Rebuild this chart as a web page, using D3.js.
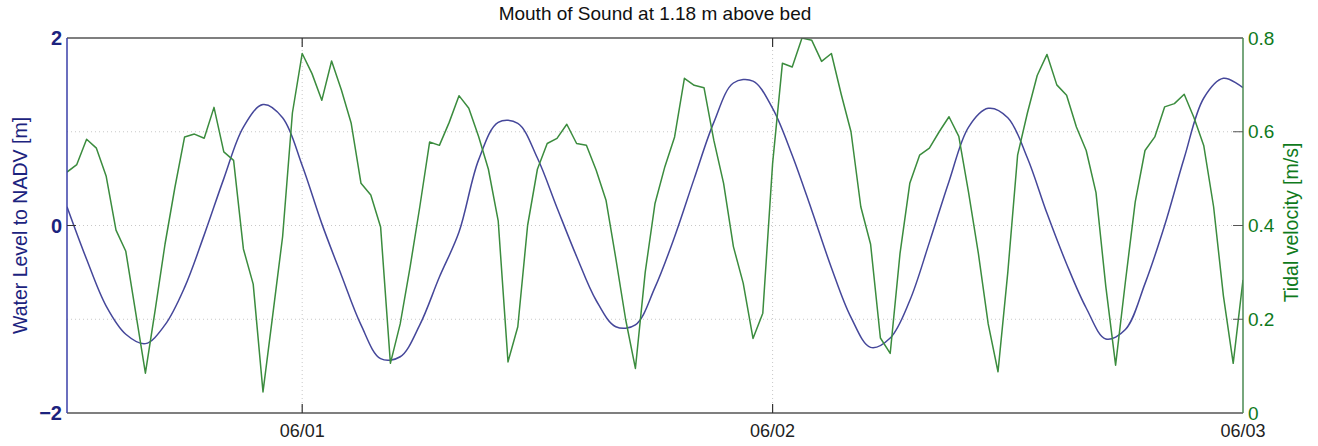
<!DOCTYPE html>
<html>
<head>
<meta charset="utf-8">
<script src="https://cdn.jsdelivr.net/npm/d3@7"></script>
<style>
  body { margin: 0; background: #fff; }
  svg { font-family: "Liberation Sans", Arial, Helvetica, sans-serif; }
</style>
</head>
<body>
<div id="chart"></div>
<script>
// half-hourly tidal velocity [m/s], from 05/31 12:00
const velocity = [
  0.514, 0.53, 0.584, 0.565, 0.505, 0.39, 0.345, 0.215, 0.085, 0.22,
  0.36, 0.48, 0.589, 0.595, 0.586, 0.652, 0.557, 0.539, 0.35, 0.275,
  0.045, 0.21, 0.376, 0.64, 0.767, 0.724, 0.667, 0.751, 0.689, 0.618,
  0.49, 0.465, 0.397, 0.106, 0.19, 0.31, 0.44, 0.578, 0.571, 0.62,
  0.677, 0.65, 0.59, 0.52, 0.41, 0.109, 0.184, 0.40, 0.52, 0.575,
  0.586, 0.616, 0.575, 0.571, 0.518, 0.454, 0.33, 0.2, 0.095, 0.3,
  0.447, 0.525, 0.589, 0.714, 0.699, 0.694, 0.582, 0.49, 0.355, 0.277,
  0.159, 0.213, 0.532, 0.746, 0.738, 0.80, 0.795, 0.75, 0.767, 0.68,
  0.60, 0.44, 0.36, 0.16, 0.127, 0.34, 0.49, 0.55, 0.565, 0.60,
  0.632, 0.59, 0.47, 0.34, 0.19, 0.088, 0.30, 0.55, 0.64, 0.72,
  0.765, 0.70, 0.678, 0.61, 0.56, 0.47, 0.27, 0.102, 0.28, 0.45,
  0.56, 0.589, 0.653, 0.66, 0.68, 0.63, 0.57, 0.44, 0.25, 0.106,
  0.284
];

// hourly water level to NADV [m], from 05/31 12:00
const waterLevel = [
  0.2, -0.36, -0.86, -1.16, -1.26, -1.06, -0.66, -0.1, 0.5, 1.05,
  1.29, 1.15, 0.64, 0.02, -0.53, -1.06, -1.42, -1.40, -1.06, -0.55,
  -0.07, 0.70, 1.10, 1.09, 0.72, 0.19, -0.33, -0.80, -1.08, -1.06,
  -0.66, -0.12, 0.50, 1.10, 1.52, 1.54, 1.25, 0.75, 0.16, -0.45,
  -0.98, -1.30, -1.20, -0.80, -0.18, 0.47, 1.05, 1.25, 1.15, 0.72,
  0.13, -0.41, -0.88, -1.21, -1.11, -0.62, 0.0, 0.72, 1.36, 1.57,
  1.47
];

const startTime = new Date(2012, 4, 31, 12, 0);
const endTime = new Date(2012, 5, 3, 0, 0);
const levelTicks = [-2, 0, 2];
const levelGrid = [-1, 0, 1];
const velocityTicks = [0, 0.2, 0.4, 0.6, 0.8];
const dateTicks = [new Date(2012, 5, 1), new Date(2012, 5, 2), new Date(2012, 5, 3)];

const W = 1318, H = 446;
const margin = {top: 38, right: 75, bottom: 33, left: 67};
const innerW = W - margin.left - margin.right;
const innerH = H - margin.top - margin.bottom;

const navy = "#1c237e", green = "#0f7a1c";
const blueLine = "#45479a", greenLine = "#3b8c3e";

const svg = d3.select("#chart").append("svg")
  .attr("width", W)
  .attr("height", H);

const g = svg.append("g")
  .attr("transform", `translate(${margin.left},${margin.top})`);

const x = d3.scaleTime().domain([startTime, endTime]).range([0, innerW]);
const yL = d3.scaleLinear().domain([-2, 2]).range([innerH, 0]);
const yR = d3.scaleLinear().domain([0, 0.8]).range([innerH, 0]);

//grid
g.selectAll(".hgrid")
  .data(levelGrid)
  .enter().append("line")
  .attr("x1", 0).attr("x2", innerW)
  .attr("y1", d => yL(d)).attr("y2", d => yL(d))
  .style("stroke", "#c8c8c8")
  .style("stroke-width", 1)
  .style("stroke-dasharray", "1,3");

g.selectAll(".vgrid")
  .data(dateTicks.slice(0, 2))
  .enter().append("line")
  .attr("x1", d => x(d)).attr("x2", d => x(d))
  .attr("y1", 0).attr("y2", innerH)
  .style("stroke", "#c8c8c8")
  .style("stroke-width", 1)
  .style("stroke-dasharray", "1,3");

//clip for data
g.append("clipPath").attr("id", "clip")
  .append("rect").attr("width", innerW).attr("height", innerH);

const levelLine = d3.line()
  .x((d, i) => x(d3.timeHour.offset(startTime, i)))
  .y(d => yL(d))
  .curve(d3.curveCatmullRom);

const velLine = d3.line()
  .x((d, i) => x(d3.timeMinute.offset(startTime, i * 30)))
  .y(d => yR(d));

g.append("path")
  .datum(waterLevel)
  .attr("clip-path", "url(#clip)")
  .attr("d", levelLine)
  .style("fill", "none")
  .style("stroke", blueLine)
  .style("stroke-width", 1.5);

g.append("path")
  .datum(velocity)
  .attr("clip-path", "url(#clip)")
  .attr("d", velLine)
  .style("fill", "none")
  .style("stroke", greenLine)
  .style("stroke-width", 1.5)
  .style("stroke-linejoin", "round");

//frame
g.append("line").attr("x1", 0).attr("x2", innerW).attr("y1", 0).attr("y2", 0)
  .style("stroke", "#555").style("stroke-width", 1.5);
g.append("line").attr("x1", 0).attr("x2", innerW).attr("y1", innerH).attr("y2", innerH)
  .style("stroke", "#555").style("stroke-width", 1.5);
g.append("line").attr("x1", 0).attr("x2", 0).attr("y1", 0).attr("y2", innerH)
  .style("stroke", "#3a3fa8").style("stroke-width", 1.5);
g.append("line").attr("x1", innerW).attr("x2", innerW).attr("y1", 0).attr("y2", innerH)
  .style("stroke", "#4a8a52").style("stroke-width", 1.5);

//x ticks
g.selectAll(".xtick")
  .data(dateTicks.slice(0, 2))
  .enter().append("path")
  .attr("d", d => `M${x(d)},${innerH}v-9M${x(d)},0v9`)
  .style("stroke", "#333")
  .style("stroke-width", 1.2);

g.selectAll(".xlabel")
  .data(dateTicks)
  .enter().append("text")
  .attr("x", d => x(d))
  .attr("y", innerH + 24)
  .attr("text-anchor", "middle")
  .style("font-size", "18px")
  .style("fill", "#222")
  .text(d => d3.timeFormat("%m/%d")(d));

//left ticks
g.selectAll(".ltick")
  .data(levelTicks.filter(d => d === 0))
  .enter().append("line")
  .attr("x1", 0).attr("x2", 9)
  .attr("y1", d => yL(d)).attr("y2", d => yL(d))
  .style("stroke", "#333").style("stroke-width", 1);

g.selectAll(".llabel")
  .data(levelTicks)
  .enter().append("text")
  .attr("x", -5)
  .attr("y", d => yL(d))
  .attr("dy", "0.35em")
  .attr("text-anchor", "end")
  .style("font-size", "20px")
  .style("font-weight", "bold")
  .style("fill", navy)
  .text(d => d < 0 ? "\u2212" + Math.abs(d) : d);

//right ticks
g.selectAll(".rtick")
  .data(velocityTicks.filter(d => d > 0 && d < 0.8))
  .enter().append("line")
  .attr("x1", innerW).attr("x2", innerW - 10)
  .attr("y1", d => yR(d)).attr("y2", d => yR(d))
  .style("stroke", "#555").style("stroke-width", 1);

g.selectAll(".rlabel")
  .data(velocityTicks)
  .enter().append("text")
  .attr("x", innerW + 5)
  .attr("y", d => yR(d))
  .attr("dy", "0.35em")
  .style("font-size", "19px")
  .style("fill", green)
  .text(d => d === 0 ? "0" : d.toFixed(1));

//axis titles
svg.append("text")
  .attr("transform", `translate(27,${margin.top + innerH / 2}) rotate(-90)`)
  .attr("text-anchor", "middle")
  .style("font-size", "19.5px")
  .style("fill", navy)
  .text("Water Level to NADV [m]");

svg.append("text")
  .attr("transform", `translate(1298,${margin.top + innerH / 2 - 3}) rotate(-90)`)
  .attr("text-anchor", "middle")
  .style("font-size", "19.5px")
  .style("fill", green)
  .text("Tidal velocity [m/s]");

//title
svg.append("text")
  .attr("x", margin.left + innerW / 2)
  .attr("y", 20)
  .attr("text-anchor", "middle")
  .style("font-size", "19px")
  .style("fill", "#111")
  .text("Mouth of Sound at 1.18 m above bed");
</script>
</body>
</html>
